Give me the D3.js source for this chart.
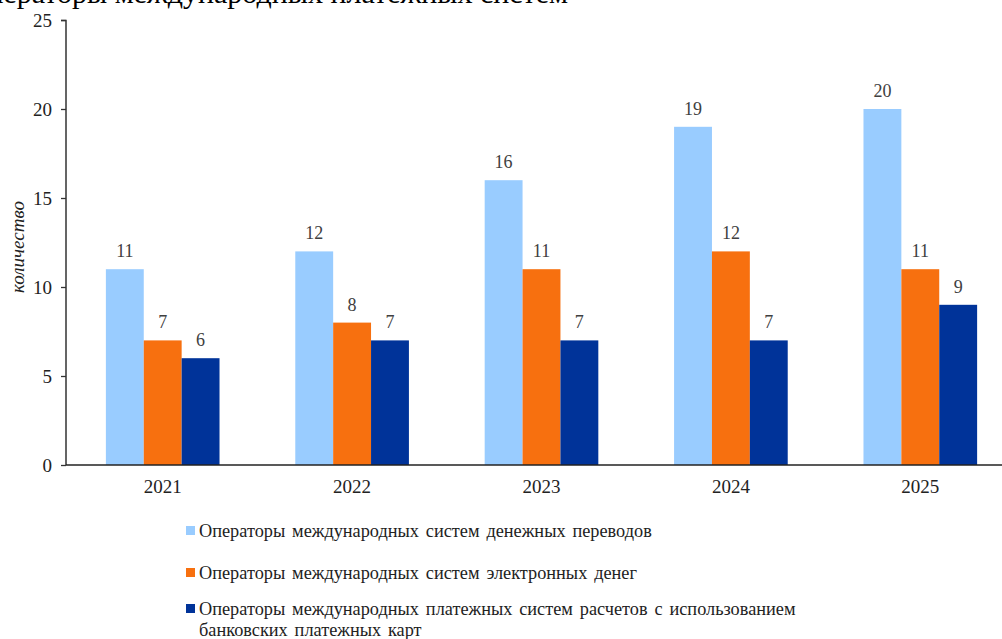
<!DOCTYPE html>
<html><head><meta charset="utf-8">
<script src="https://cdn.jsdelivr.net/npm/d3@7"></script>
<style>body{margin:0;background:#fff}svg{display:block}
svg text{font-family:"Liberation Serif","Times New Roman",serif !important;}</style>
</head><body>
<script>
const years = ["2021","2022","2023","2024","2025"];
const seriesNames = [
  "Операторы международных систем денежных переводов",
  "Операторы международных систем электронных денег",
  "Операторы международных платежных систем расчетов с использованием банковских платежных карт"
];
const moneyTransfer = [11,12,16,19,20];
const electronicMoney = [7,8,11,12,11];
const cardSystems = [6,7,7,7,9];
const yTicks = [0,5,10,15,20,25];
const colors = ["#99CCFF","#F7700F","#003399"];

const W=1002,H=639;
const svg=d3.select("body").append("svg").attr("width",W).attr("height",H);

const title=svg.append("text").attr("x",0).attr("y",3).attr("font-size",30).attr("fill","#000")
  .text("Операторы международных платежных систем");
const tw=title.node().getComputedTextLength();
title.attr("x",568-tw);

const y=d3.scaleLinear().domain([0,25]).range([465,20]);
const x0=d3.scaleBand().domain(years).range([68,1015]).paddingInner(0.4).paddingOuter(0.2);
const keys=[0,1,2];
const x1=d3.scaleBand().domain(keys).range([0,x0.bandwidth()]);
const data=years.map((yr,i)=>({yr,vals:[moneyTransfer[i],electronicMoney[i],cardSystems[i]]}));

const g=svg.selectAll("g.grp").data(data).join("g").attr("transform",d=>`translate(${x0(d.yr)},0)`);
g.selectAll("rect").data(d=>d.vals.map((v,k)=>({v,k}))).join("rect")
  .attr("x",d=>x1(d.k)).attr("width",x1.bandwidth()).attr("y",d=>y(d.v)).attr("height",d=>y(0)-y(d.v))
  .attr("fill",d=>colors[d.k]);
g.selectAll("text").data(d=>d.vals.map((v,k)=>({v,k}))).join("text")
  .attr("x",d=>x1(d.k)+x1.bandwidth()/2).attr("y",d=>y(d.v)-12)
  .attr("text-anchor","middle").attr("font-size",18).attr("fill","#404040")
  .text(d=>d.v);

// y axis
const ya=svg.append("g").attr("transform","translate(66,0)")
  .call(d3.axisLeft(y).tickValues(yTicks).tickSize(5).tickPadding(9));
ya.select(".domain").attr("stroke","#333").attr("stroke-width",1.5).attr("d","M-5,20.5H0V465");
ya.selectAll(".tick line").attr("stroke","#333").attr("stroke-width",1.3);
ya.selectAll("text").attr("font-size",19).attr("fill","#222");

// x axis
const xa=svg.append("g").attr("transform","translate(0,465)")
  .call(d3.axisBottom(x0).tickSize(0).tickPadding(15));
xa.select(".domain").attr("stroke","#222").attr("stroke-width",1.5).attr("d","M66,0H1002");
xa.selectAll("text").attr("font-size",19).attr("fill","#222");

svg.append("text").attr("transform","translate(24,247) rotate(-90)").attr("text-anchor","middle")
  .attr("font-size",19).attr("font-style","italic").attr("fill","#222").text("количество");

// legend
const legY=[531,573,609];
const lg=svg.selectAll("g.leg").data(seriesNames).join("g").attr("transform",(d,i)=>`translate(186,${legY[i]})`);
lg.append("rect").attr("x",0).attr("y",-5).attr("width",9).attr("height",9).attr("fill",(d,i)=>colors[i]);
lg.each(function(d,i){
  const t=d3.select(this).append("text").attr("x",13).attr("y",6).attr("font-size",18.3).attr("fill","#222").attr("word-spacing","2.3px");
  if(i===2){
    t.append("tspan").attr("x",13).attr("dy",0).text("Операторы международных платежных систем расчетов с использованием");
    t.append("tspan").attr("x",13).attr("dy",21).text("банковских платежных карт");
  } else t.text(d);
});
</script>
</body></html>
